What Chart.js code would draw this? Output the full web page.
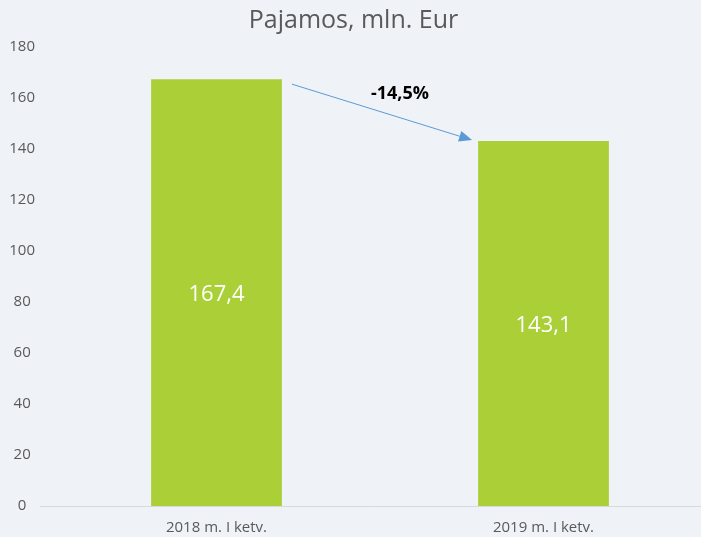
<!DOCTYPE html>
<html>
<head>
<meta charset="utf-8">
<script src="https://cdn.jsdelivr.net/npm/chart.js@4"></script>
<style>
  html, body { margin: 0; padding: 0; background: #eff3f8; overflow: hidden; width: 701px; height: 537px; }
  canvas { display: block; }
</style>
</head>
<body>
<canvas id="c" width="707" height="537" style="width:707px;height:537px"></canvas>
<script>
const categories = ['2018 m. I ketv.', '2019 m. I ketv.'];
const revenue = [167.4, 143.1];
const changeLabel = '-14,5%';
const titleText = 'Pajamos, mln. Eur';
const yTicks = { min: 0, max: 180, step: 20 };

const GRAY = '#595959';
const FONT = "'Open Sans', sans-serif";

const bgPlugin = {
  id: 'bg',
  beforeDraw(chart) {
    const ctx = chart.ctx;
    ctx.save();
    ctx.fillStyle = '#eff3f8';
    ctx.fillRect(0, 0, chart.width, chart.height);
    ctx.restore();
  }
};

const decoPlugin = {
  id: 'deco',
  beforeDatasetsDraw(chart) {
    const ctx = chart.ctx;
    const y0 = chart.scales.y.getPixelForValue(0);
    ctx.save();
    ctx.strokeStyle = '#d9d9d9';
    ctx.lineWidth = 1;
    ctx.beginPath();
    ctx.moveTo(chart.chartArea.left - 13, Math.round(y0) + 0.5);
    ctx.lineTo(chart.width, Math.round(y0) + 0.5);
    ctx.stroke();
    ctx.restore();
  },
  afterDatasetsDraw(chart) {
    const ctx = chart.ctx;
    const meta = chart.getDatasetMeta(0);
    ctx.save();
    // value labels
    ctx.fillStyle = '#ffffff';
    ctx.font = "22px " + FONT;
    ctx.textAlign = 'center';
    ctx.textBaseline = 'middle';
    meta.data.forEach((bar, i) => {
      const v = revenue[i];
      ctx.fillText(v.toFixed(1).replace('.', ','), bar.x, (bar.y + bar.base) / 2 + 2);
    });
    // arrow
    const b0 = meta.data[0], b1 = meta.data[1];
    const sx = b0.x + b0.width / 2 + 10, sy = b0.y + 5;
    const ex = b1.x - b1.width / 2 - 6, ey = b1.y - 1;
    const ang = Math.atan2(ey - sy, ex - sx);
    const headLen = 13, headW = 5.5;
    const bx = ex - headLen * Math.cos(ang), by = ey - headLen * Math.sin(ang);
    ctx.strokeStyle = '#5b9bd5';
    ctx.fillStyle = '#5b9bd5';
    ctx.lineWidth = 1;
    ctx.beginPath();
    ctx.moveTo(sx, sy);
    ctx.lineTo(bx, by);
    ctx.stroke();
    ctx.beginPath();
    ctx.moveTo(ex, ey);
    ctx.lineTo(bx + headW * Math.sin(ang), by - headW * Math.cos(ang));
    ctx.lineTo(bx - headW * Math.sin(ang), by + headW * Math.cos(ang));
    ctx.closePath();
    ctx.fill();
    // change label
    ctx.fillStyle = '#000000';
    ctx.font = "bold 18px " + FONT;
    ctx.fillText(changeLabel, (sx + ex) / 2 + 18, (sy + ey) / 2 - 18);
    ctx.restore();
  }
};

new Chart(document.getElementById('c'), {
  type: 'bar',
  data: {
    labels: categories,
    datasets: [{
      data: revenue,
      backgroundColor: '#abd037',
      borderWidth: 0,
      categoryPercentage: 1,
      barPercentage: 0.4
    }]
  },
  options: {
    responsive: false,
    animation: false,
    layout: { padding: 0 },
    plugins: {
      legend: { display: false },
      tooltip: { enabled: false },
      title: {
        display: true,
        text: titleText,
        color: GRAY,
        font: { family: FONT, size: 25, weight: 'normal' },
        padding: { top: 6, bottom: 11 }
      }
    },
    scales: {
      x: {
        grid: { display: false },
        border: { display: false },
        ticks: { color: GRAY, font: { family: FONT, size: 15 }, padding: 5 },
        afterFit(s) { s.height = 31; }
      },
      y: {
        min: yTicks.min,
        max: yTicks.max,
        grid: { display: false },
        border: { display: false },
        ticks: { stepSize: yTicks.step, color: GRAY, font: { family: FONT, size: 15 }, padding: 10, crossAlign: 'center' },
        afterFit(s) { s.width = 53; }
      }
    }
  },
  plugins: [bgPlugin, decoPlugin]
});
</script>
</body>
</html>
